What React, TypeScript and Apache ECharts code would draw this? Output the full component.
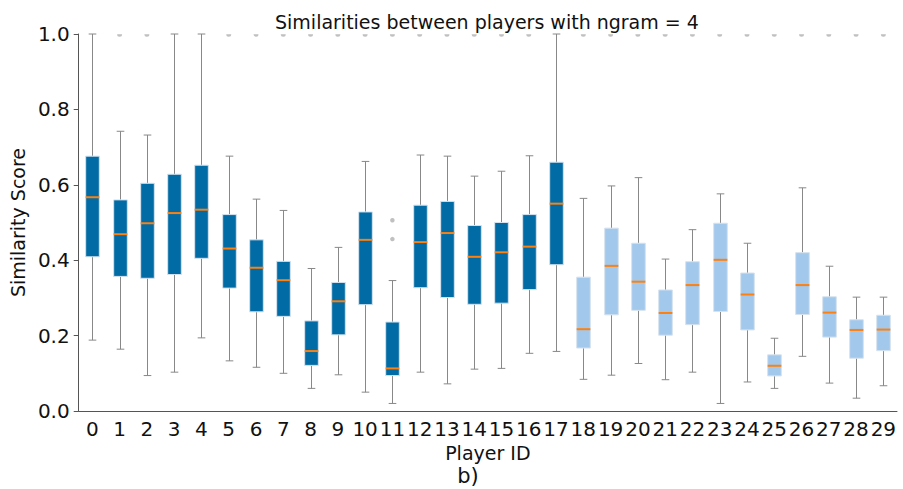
import React, { useEffect, useRef } from "react";
import * as echarts from "echarts";

const playerIds = ["0","1","2","3","4","5","6","7","8","9","10","11","12","13","14","15","16","17","18","19","20","21","22","23","24","25","26","27","28","29"];
const lowWhisker = [0.188,0.164,0.094,0.103,0.194,0.133,0.116,0.100,0.060,0.096,0.050,0.020,0.103,0.072,0.111,0.113,0.153,0.158,0.084,0.095,0.126,0.083,0.103,0.020,0.077,0.060,0.145,0.074,0.034,0.067];
const q1 = [0.409,0.357,0.352,0.362,0.405,0.326,0.263,0.251,0.121,0.202,0.282,0.094,0.327,0.301,0.283,0.286,0.322,0.388,0.167,0.255,0.267,0.201,0.229,0.264,0.215,0.093,0.256,0.196,0.140,0.160];
const medians = [0.567,0.469,0.498,0.525,0.534,0.431,0.380,0.347,0.159,0.291,0.454,0.113,0.448,0.472,0.409,0.421,0.436,0.550,0.217,0.385,0.343,0.260,0.334,0.401,0.309,0.120,0.334,0.261,0.215,0.216];
const q3 = [0.676,0.560,0.604,0.628,0.652,0.521,0.454,0.397,0.239,0.341,0.528,0.236,0.546,0.556,0.492,0.500,0.521,0.660,0.355,0.485,0.445,0.321,0.396,0.498,0.366,0.149,0.420,0.303,0.242,0.254];
const highWhisker = [1.0,0.742,0.732,1.0,1.0,0.676,0.562,0.532,0.378,0.434,0.662,0.346,0.679,0.676,0.623,0.636,0.677,1.0,0.564,0.597,0.619,0.403,0.481,0.576,0.445,0.193,0.592,0.384,0.302,0.302];
const groupOf = [0,0,0,0,0,0,0,0,0,0,0,0,0,0,0,0,0,0,1,1,1,1,1,1,1,1,1,1,1,1];
const outlierPlayer = [1,2,5,6,7,8,9,10,11,11,11,12,13,14,15,16,18,19,20,21,22,23,24,25,26,27,28,29];
const outlierValue = [1,1,1,1,1,1,1,1,1,0.506,0.456,1,1,1,1,1,1,1,1,1,1,1,1,1,1,1,1,1];

const boxColors = ["#006BA4", "#A2C8EC"];
const FONT = "DejaVu Sans";

export default function App() {
  const ref = useRef<HTMLDivElement>(null);
  useEffect(() => {
    if (!ref.current) return;
    const chart = echarts.init(ref.current, undefined, { renderer: "svg" });
    const boxData = playerIds.map((_, i) => [i, lowWhisker[i], q1[i], medians[i], q3[i], highWhisker[i], groupOf[i]]);
    const outData = outlierPlayer.map((p, i) => {
      const v = outlierValue[i];
      if (v >= 1) {
        return {
          value: [p, v],
          symbol: "path://M0 0 L10 0 A5 5 0 0 1 0 0 Z",
          symbolSize: [5, 2.5],
          symbolOffset: [0, 1.5],
        };
      }
      return { value: [p, v], symbol: "circle", symbolSize: 4.5 };
    });
    chart.setOption({
      animation: false,
      title: {
        text: "Similarities between players with ngram = 4",
        left: 270,
        top: 7,
        textStyle: { fontFamily: FONT, fontSize: 19, fontWeight: "normal", color: "#111" },
      },
      graphic: [
        {
          type: "text",
          x: 468,
          y: 476,
          style: {
            text: "b)",
            fontFamily: FONT,
            fontSize: 21,
            fill: "#111",
            textAlign: "center",
            textVerticalAlign: "middle",
          },
        },
      ],
      grid: { left: 72, right: 6, top: 34, bottom: 78, containLabel: false },
      xAxis: {
        type: "category",
        data: playerIds,
        name: "Player ID",
        nameLocation: "middle",
        nameGap: 32,
        nameTextStyle: { fontFamily: FONT, fontSize: 19, color: "#111" },
        axisLine: { lineStyle: { color: "#555", width: 1 } },
        axisTick: { alignWithLabel: true, length: 5, lineStyle: { color: "#555" } },
        axisLabel: { fontFamily: FONT, fontSize: 20, color: "#111", margin: 8, interval: 0 },
        splitLine: { show: false },
      },
      yAxis: {
        type: "value",
        min: 0,
        max: 1,
        interval: 0.2,
        name: "Similarity Score",
        nameLocation: "middle",
        nameGap: 47,
        nameTextStyle: { fontFamily: FONT, fontSize: 19, color: "#111" },
        axisLine: { show: true, lineStyle: { color: "#555", width: 1 } },
        axisTick: { show: true, length: 5, lineStyle: { color: "#555" } },
        axisLabel: {
          fontFamily: FONT,
          fontSize: 20,
          color: "#111",
          margin: 9,
          formatter: (v: number) => v.toFixed(1),
        },
        splitLine: { show: false },
      },
      series: [
        {
          type: "custom",
          data: boxData,
          encode: { x: 0, y: [1, 2, 3, 4, 5] },
          clip: false,
          renderItem: (params: any, api: any) => {
            const x = api.value(0);
            const lo = api.coord([x, api.value(1)]);
            const pq1 = api.coord([x, api.value(2)]);
            const pm = api.coord([x, api.value(3)]);
            const pq3 = api.coord([x, api.value(4)]);
            const hi = api.coord([x, api.value(5)]);
            const g = api.value(6);
            const cw = api.size([1, 0])[0];
            const bw = cw * 0.5;
            const capw = cw * 0.28;
            const cx = Math.round(lo[0]) + 0.5;
            const whisk = { stroke: "#888", lineWidth: 1 };
            return {
              type: "group",
              children: [
                { type: "line", shape: { x1: cx, y1: lo[1], x2: cx, y2: pq1[1] }, style: whisk },
                { type: "line", shape: { x1: cx, y1: pq3[1], x2: cx, y2: hi[1] }, style: whisk },
                { type: "line", shape: { x1: cx - capw / 2, y1: lo[1], x2: cx + capw / 2, y2: lo[1] }, style: whisk },
                { type: "line", shape: { x1: cx - capw / 2, y1: hi[1], x2: cx + capw / 2, y2: hi[1] }, style: whisk },
                {
                  type: "rect",
                  shape: { x: cx - bw / 2, y: pq3[1], width: bw, height: pq1[1] - pq3[1] },
                  style: { fill: boxColors[g], stroke: "#d6e2ee", lineWidth: 1 },
                },
                {
                  type: "line",
                  shape: { x1: cx - bw / 2, y1: pm[1], x2: cx + bw / 2, y2: pm[1] },
                  style: { stroke: "#FF800E", lineWidth: 2 },
                },
              ],
            };
          },
          z: 2,
        },
        {
          type: "scatter",
          data: outData,
          itemStyle: { color: "#b0b0b0" },
          clip: false,
          z: 3,
        },
      ],
    });
    return () => chart.dispose();
  }, []);
  return (
    <div
      ref={ref}
      style={{ position: "absolute", left: 0, top: 0, width: 903, height: 489, background: "#fff" }}
    />
  );
}
